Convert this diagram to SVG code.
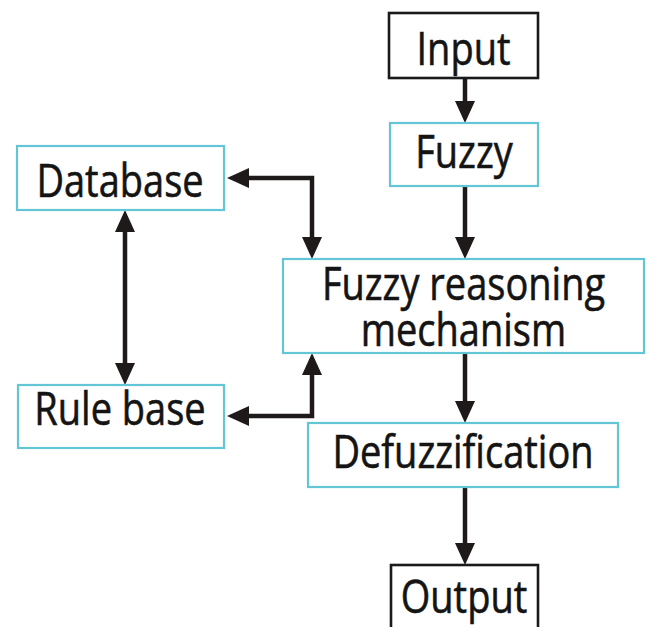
<svg xmlns="http://www.w3.org/2000/svg" width="648" height="627" viewBox="0 0 648 627">
  <style>
    .box { fill: #ffffff; stroke: #63c6d6; stroke-width: 2.2; }
    .term { fill: #ffffff; stroke: #1a1a1a; stroke-width: 2.6; }
    .lbl { font-family: "Open Sans", "Liberation Sans", sans-serif; font-size: 38px; fill: #141414; stroke: #141414; stroke-width: 0.5; text-anchor: middle; }
    .wire { fill: none; stroke: #1f1a1a; stroke-width: 4.5; stroke-linecap: butt; stroke-linejoin: miter; }
  </style>
  <defs>
    <!-- arrowhead; its tip sits 6px past the end of the wire -->
    <marker id="head" markerUnits="userSpaceOnUse" markerWidth="22" markerHeight="20" refX="16" refY="10" orient="auto-start-reverse">
      <path d="M0,0 L22,10 L0,20 Z" fill="#1f1a1a"/>
    </marker>
  </defs>

  <rect width="648" height="627" fill="#ffffff"/>

  <g id="connectors">
    <path class="wire" d="M465,78 V117" marker-end="url(#head)"/>
    <path class="wire" d="M465,186 V253" marker-end="url(#head)"/>
    <path class="wire" d="M465,353 V417" marker-end="url(#head)"/>
    <path class="wire" d="M465,487 V559" marker-end="url(#head)"/>
    <path class="wire" d="M233,178 H312 V253" marker-start="url(#head)" marker-end="url(#head)"/>
    <path class="wire" d="M233,416 H312 V359" marker-start="url(#head)" marker-end="url(#head)"/>
    <path class="wire" d="M125,216 V379" marker-start="url(#head)" marker-end="url(#head)"/>
  </g>

  <g id="input">
    <rect class="term" x="389" y="13" width="149" height="65"/>
    <text class="lbl" transform="translate(463.5,65) scale(1,1.2)">Input</text>
  </g>

  <g id="fuzzy">
    <rect class="box" x="390" y="123" width="148" height="63"/>
    <text class="lbl" transform="translate(464,168) scale(1,1.2)">Fuzzy</text>
  </g>

  <g id="database">
    <rect class="box" x="17" y="146" width="207" height="64"/>
    <text class="lbl" transform="translate(120,197) scale(1,1.2)">Database</text>
  </g>

  <g id="reasoning">
    <rect class="box" x="283" y="259" width="361" height="94"/>
    <text class="lbl" transform="translate(463.5,300) scale(1,1.2)">Fuzzy reasoning</text>
    <text class="lbl" transform="translate(463.5,346) scale(1,1.2)">mechanism</text>
  </g>

  <g id="rulebase">
    <rect class="box" x="18" y="385" width="206" height="63"/>
    <text class="lbl" transform="translate(120,425) scale(1,1.2)">Rule base</text>
  </g>

  <g id="defuzzification">
    <rect class="box" x="308" y="423" width="310" height="64"/>
    <text class="lbl" transform="translate(463,468) scale(1,1.2)">Defuzzification</text>
  </g>

  <g id="output">
    <rect class="term" x="391" y="565" width="147" height="80"/>
    <text class="lbl" transform="translate(464,613) scale(1,1.2)">Output</text>
  </g>
</svg>
